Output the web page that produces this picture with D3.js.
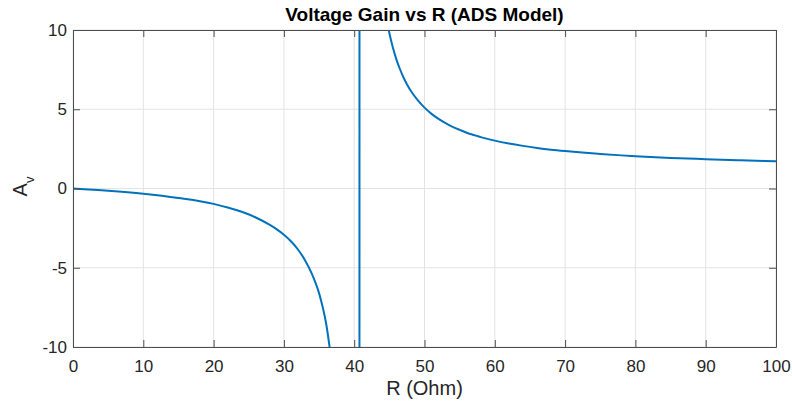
<!DOCTYPE html>
<html>
<head>
<meta charset="utf-8">
<script src="https://cdn.jsdelivr.net/npm/d3@7"></script>
<style>
  body { margin: 0; background: #fff; }
  svg text { font-family: "Liberation Sans", Arial, sans-serif; fill: #262626; }
  .tick text { font-size: 17px; }
  .grid line { stroke: #e3e3e3; }
</style>
</head>
<body>
<div id="chart"></div>
<script>
/* Voltage gain vs R */

const width = 792, height = 407,
    margin = ({ top: 30, right: 16, bottom: 60, left: 73 });

// values
const resistance = [0, 5, 10, 15, 20, 22, 24, 26, 28, 29, 30, 31, 32, 33, 34, 35, 35.5, 36, 36.5, 37, 38, 39, 40, 40.7,
    40.8, 41.5, 42, 43, 44, 44.5, 45, 45.5, 46, 46.5, 47, 47.5, 48, 49, 50, 51, 52, 53, 54, 55, 56, 57, 58, 60,
    62, 64, 66, 68, 70, 72, 75, 78, 80, 85, 90, 95, 100];
const gain = [0, -0.14, -0.33, -0.6, -0.97, -1.2, -1.47, -1.83, -2.3, -2.58, -2.92, -3.33, -3.85, -4.52, -5.4, -6.6, -7.45, -8.5, -10, -11.8, -16, -24, -50, -400,
    400, 50, 30.7, 16.2, 12.5, 10.97, 9.81, 8.9, 8.15, 7.54, 7.02, 6.58, 6.2, 5.59, 5.1, 4.71, 4.39, 4.12, 3.89, 3.7, 3.52, 3.38, 3.24, 3.02,
    2.84, 2.69, 2.56, 2.45, 2.36, 2.28, 2.18, 2.09, 2.04, 1.93, 1.85, 1.78, 1.72];
const xTicks = [0, 10, 20, 30, 40, 50, 60, 70, 80, 90, 100];
const yTicks = [-10, -5, 0, 5, 10];

const data = resistance.map((r, i) => ({ r: r, av: gain[i] }));

const svg = d3.select("#chart")
    .append("svg")
    .attr("width", width)
    .attr("height", height);

let x = d3.scaleLinear()
    .domain([0, 100])
    .range([margin.left, width - margin.right]);

let y = d3.scaleLinear()
    .domain([-10, 10])
    .range([height - margin.bottom, margin.top]);

// grid
svg.append("g")
    .attr("class", "grid")
    .selectAll("line")
    .data(xTicks)
    .join("line")
    .attr("x1", d => x(d)).attr("x2", d => x(d))
    .attr("y1", y(-10)).attr("y2", y(10));

svg.append("g")
    .attr("class", "grid")
    .selectAll("line")
    .data(yTicks)
    .join("line")
    .attr("x1", x(0)).attr("x2", x(100))
    .attr("y1", d => y(d)).attr("y2", d => y(d));

// curve, clipped to the plot box
svg.append("clipPath")
    .attr("id", "plot-clip")
    .append("rect")
    .attr("x", x(0)).attr("y", y(10))
    .attr("width", x(100) - x(0))
    .attr("height", y(-10) - y(10));

let line = d3.line()
    .x(d => x(d.r))
    .y(d => y(d.av))
    .curve(d3.curveMonotoneX);

svg.append("path")
    .datum(data)
    .attr("clip-path", "url(#plot-clip)")
    .attr("d", line)
    .attr("fill", "none")
    .attr("stroke", "#0072BD")
    .attr("stroke-width", 2);

// axes (ticks point inward, box on all sides)
const tickLen = 7;
function styleAxis(g) {
    g.select(".domain").attr("stroke", "#4d4d4d");
    g.selectAll(".tick line").attr("stroke", "#4d4d4d");
    g.selectAll(".tick text").attr("fill", "#262626");
}

svg.append("g")
    .attr("transform", `translate(0,${y(-10)})`)
    .call(d3.axisBottom(x).tickValues(xTicks).tickSize(-tickLen).tickSizeOuter(0).tickPadding(13).tickFormat(d => String(d)))
    .call(styleAxis);

svg.append("g")
    .attr("transform", `translate(0,${y(10)})`)
    .call(d3.axisTop(x).tickValues(xTicks).tickSize(-tickLen).tickSizeOuter(0).tickFormat(""))
    .call(styleAxis);

svg.append("g")
    .attr("transform", `translate(${x(0)},0)`)
    .call(d3.axisLeft(y).tickValues(yTicks).tickSize(-tickLen).tickSizeOuter(0).tickPadding(6).tickFormat(d => String(d)))
    .call(styleAxis);

svg.append("g")
    .attr("transform", `translate(${x(100)},0)`)
    .call(d3.axisRight(y).tickValues(yTicks).tickSize(-tickLen).tickSizeOuter(0).tickFormat(""))
    .call(styleAxis);

// title
svg.append("text")
    .attr("x", (x(0) + x(100)) / 2)
    .attr("y", 21)
    .attr("text-anchor", "middle")
    .style("font-size", "19px")
    .style("font-weight", "bold")
    .style("fill", "#000")
    .text("Voltage Gain vs R (ADS Model)");

// x label
svg.append("text")
    .attr("x", (x(0) + x(100)) / 2)
    .attr("y", 395)
    .attr("text-anchor", "middle")
    .style("font-size", "20px")
    .text("R (Ohm)");

// y label with subscript
let yl = svg.append("text")
    .attr("transform", `translate(27,${y(0) - 2}) rotate(-90)`)
    .attr("text-anchor", "middle")
    .style("font-size", "20px");
yl.append("tspan").text("A");
yl.append("tspan").attr("dy", 7).style("font-size", "13px").text("v");
</script>
</body>
</html>
